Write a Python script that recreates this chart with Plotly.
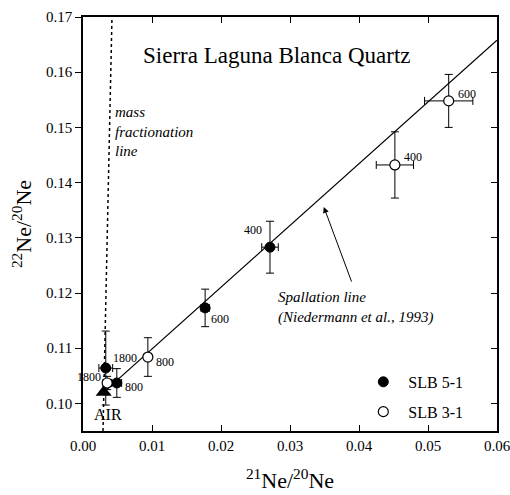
import plotly.graph_objects as go

# SLB 5-1 (filled)
slb5_x = [0.0033, 0.0049, 0.0177, 0.0271]
slb5_y = [0.1064, 0.1037, 0.1173, 0.1283]
slb5_xerr = [0.0010, 0.0007, 0.0006, 0.0012]
slb5_yerr = [0.0067, 0.0026, 0.0034, 0.0047]
slb5_lab = ["1800", "800", "600", "400"]

# SLB 3-1 (open)
slb3_x = [0.0035, 0.0094, 0.0452, 0.0530]
slb3_y = [0.1037, 0.1084, 0.1432, 0.1548]
slb3_xerr = [0.0006, 0.0005, 0.0027, 0.0035]
slb3_yerr = [0.0012, 0.0035, 0.0060, 0.0048]
slb3_lab = ["1800", "800", "400", "600"]

air_x = [0.0030]
air_y = [0.1020]

spall_x = [0.00297, 0.06]
spall_y = [0.1020, 0.1658]

mfl_x = [0.0029, 0.0042]
mfl_y = [0.095, 0.170]

SERIF = "Liberation Serif, 'Times New Roman', Times, serif"
BLACK = "black"

fig = go.Figure()

fig.add_trace(go.Scatter(x=mfl_x, y=mfl_y, mode="lines",
                         line=dict(color=BLACK, width=1.5, dash="dot"),
                         showlegend=False, hoverinfo="skip"))
fig.add_trace(go.Scatter(x=spall_x, y=spall_y, mode="lines",
                         line=dict(color=BLACK, width=1.3),
                         showlegend=False, hoverinfo="skip"))
fig.add_trace(go.Scatter(x=air_x, y=air_y, mode="markers",
                         marker=dict(symbol="triangle-up", size=14, color=BLACK),
                         showlegend=False))
fig.add_trace(go.Scatter(
    x=slb5_x, y=slb5_y, mode="markers", name="SLB 5-1", legendgroup="a",
    marker=dict(symbol="circle", size=10, color=BLACK, line=dict(color=BLACK, width=1)),
    error_x=dict(type="data", array=slb5_xerr, color=BLACK, thickness=1, width=4),
    error_y=dict(type="data", array=slb5_yerr, color=BLACK, thickness=1, width=4)))
fig.add_trace(go.Scatter(
    x=slb3_x, y=slb3_y, mode="markers", name="SLB 3-1", legendgroup="b",
    marker=dict(symbol="circle", size=10, color="white", line=dict(color=BLACK, width=1.2)),
    error_x=dict(type="data", array=slb3_xerr, color=BLACK, thickness=1, width=4),
    error_y=dict(type="data", array=slb3_yerr, color=BLACK, thickness=1, width=4)))

# invisible trace for mirrored axes
fig.add_trace(go.Scatter(x=[0.0], y=[0.1], xaxis="x2", yaxis="y2", mode="markers",
                         marker=dict(opacity=0), showlegend=False, hoverinfo="skip"))

lab_font = dict(family=SERIF, size=12, color=BLACK)
# point labels: (x, y, xanchor)
slb5_lab_pos = [(0.0040, 0.1082, "left"), (0.0058, 0.1030, "left"),
                (0.0183, 0.1153, "left"), (0.0263, 0.1314, "right")]
slb3_lab_pos = [(0.0029, 0.1047, "right"), (0.0103, 0.1075, "left"),
                (0.0462, 0.1446, "left"), (0.0541, 0.1560, "left")]
for (px, py, anc), t in zip(slb5_lab_pos, slb5_lab):
    fig.add_annotation(x=px, y=py, text=t, showarrow=False, xanchor=anc, font=lab_font)
for (px, py, anc), t in zip(slb3_lab_pos, slb3_lab):
    fig.add_annotation(x=px, y=py, text=t, showarrow=False, xanchor=anc, font=lab_font)

fig.add_annotation(x=0.0036, y=0.0979, text="AIR", showarrow=False,
                   font=dict(family=SERIF, size=16, color=BLACK))
fig.add_annotation(x=0.0281, y=0.1631, text="Sierra Laguna Blanca Quartz", showarrow=False,
                   font=dict(family=SERIF, size=23, color=BLACK))
fig.add_annotation(x=0.0043, y=0.1493, text="<i>mass<br>fractionation<br>line</i>",
                   showarrow=False, xanchor="left", align="left",
                   font=dict(family=SERIF, size=15, color=BLACK))
fig.add_annotation(x=0.0279, y=0.1173, text="<i>Spallation line<br>(Niedermann et al., 1993)</i>",
                   showarrow=False, xanchor="left", align="left",
                   font=dict(family=SERIF, size=15, color=BLACK))
fig.add_annotation(x=0.0349, y=0.1356, ax=0.0390, ay=0.1218, xref="x", yref="y",
                   axref="x", ayref="y", text="", showarrow=True,
                   arrowhead=2, arrowsize=1.2, arrowwidth=1, arrowcolor=BLACK)

tickfont = dict(family=SERIF, size=15, color=BLACK)
xt = [0, 0.01, 0.02, 0.03, 0.04, 0.05, 0.06]
xtt = ["0.00", "0.01", "0.02", "0.03", "0.04", "0.05", "0.06"]
yt = [0.10, 0.11, 0.12, 0.13, 0.14, 0.15, 0.16, 0.17]
ytt = ["0.10", "0.11", "0.12", "0.13", "0.14", "0.15", "0.16", "0.17"]
common = dict(tickcolor=BLACK, ticklen=6, showgrid=False, zeroline=False, showline=True,
              linecolor=BLACK, linewidth=1.5, automargin=False)
fig.update_layout(
    width=510, height=495,
    margin=dict(l=83, r=13, t=17, b=64, autoexpand=False),
    paper_bgcolor="white", plot_bgcolor="white",
    xaxis=dict(range=[0, 0.06], tickvals=xt, ticktext=xtt, ticks="inside",
               tickfont=tickfont, ticklabeloverflow="allow",
               title=dict(text="<sup>21</sup>Ne/<sup>20</sup>Ne",
                          font=dict(family=SERIF, size=22, color=BLACK), standoff=20),
               **common),
    yaxis=dict(range=[0.095, 0.17], tickvals=yt, ticktext=ytt, ticks="outside",
               tickfont=tickfont, ticklabeloverflow="allow",
               title=dict(text="<sup>22</sup>Ne/<sup>20</sup>Ne",
                          font=dict(family=SERIF, size=22, color=BLACK), standoff=8),
               **common),
    xaxis2=dict(overlaying="x", side="top", matches="x", range=[0, 0.06],
                tickvals=xt, showticklabels=False, ticks="inside", **common),
    yaxis2=dict(overlaying="y", side="right", matches="y", range=[0.095, 0.17],
                tickvals=yt, showticklabels=False, ticks="inside", **common),
    legend=dict(x=0.665, y=0.005, xanchor="left", yanchor="bottom", bgcolor="rgba(0,0,0,0)",
                font=dict(family=SERIF, size=16, color=BLACK), tracegroupgap=6,
                itemwidth=40),
    showlegend=True,
)

fig.write_html("out.html",
               config={"displayModeBar": False},
               post_script="document.body.style.margin='0px';"
                           "document.documentElement.style.overflow='hidden';"
                           "document.body.style.overflow='hidden';")
